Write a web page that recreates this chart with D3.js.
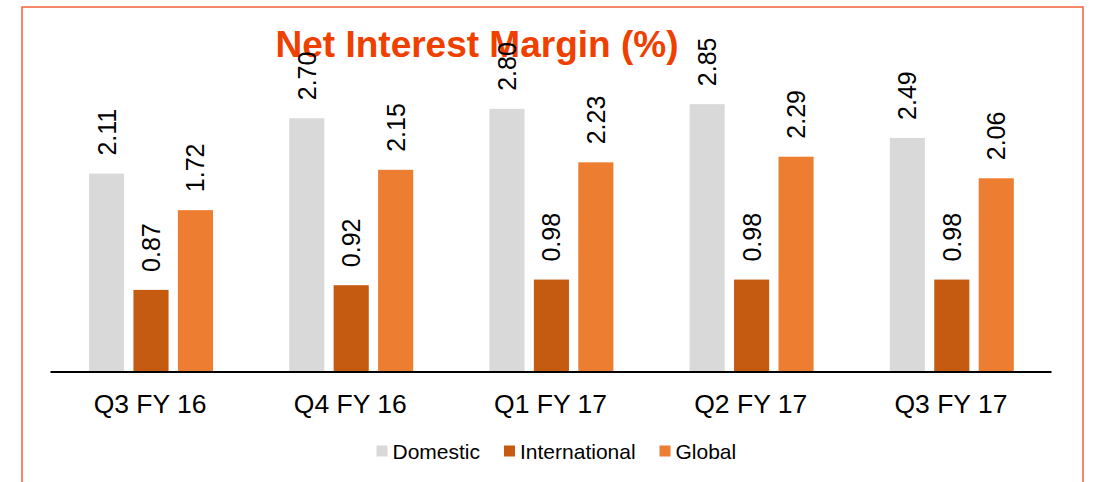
<!DOCTYPE html>
<html>
<head>
<meta charset="utf-8">
<script src="https://cdn.jsdelivr.net/npm/d3@7"></script>
<style>
  body { margin: 0; background: #fff; }
  svg { display: block; font-family: 'Liberation Sans', Arial, sans-serif; }
</style>
</head>
<body>
<svg id="chart"></svg>
<script>
// chart data
const quarters = ['Q3 FY 16', 'Q4 FY 16', 'Q1 FY 17', 'Q2 FY 17', 'Q3 FY 17'];
const seriesNames = ['Domestic', 'International', 'Global'];
const domestic = [2.11, 2.70, 2.80, 2.85, 2.49];
const international = [0.87, 0.92, 0.98, 0.98, 0.98];
const global = [1.72, 2.15, 2.23, 2.29, 2.06];
const colors = ['#d9d9d9', '#c55a11', '#ed7d31'];

const width = 1097;
const height = 482;
const baseY = 371.5;

const svg = d3.select('#chart')
              .attr('width', width)
              .attr('height', height);

// orange frame, open at bottom
svg.append('rect')
   .attr('x', 22)
   .attr('y', 7)
   .attr('width', 1061)
   .attr('height', 520)
   .attr('fill', 'none')
   .attr('stroke', '#f4623a')
   .attr('stroke-width', 1.5);

const x0 = d3.scaleBand()
             .domain(quarters)
             .range([50, 1051]);

const x1 = d3.scaleBand()
             .domain(seriesNames)
             .range([39, 163])
             .paddingInner(0.21);

const y = d3.scaleLinear()
            .domain([0, 3])
            .range([baseY, baseY - 3 * 93.8]);

const color = d3.scaleOrdinal()
                .domain(seriesNames)
                .range(colors);

// build rows from arrays
const rows = [];
quarters.forEach((q, i) => {
  rows.push({ q: q, s: 'Domestic', v: domestic[i] });
  rows.push({ q: q, s: 'International', v: international[i] });
  rows.push({ q: q, s: 'Global', v: global[i] });
});

// title
svg.append('text')
   .attr('x', 477)
   .attr('y', 56.5)
   .attr('text-anchor', 'middle')
   .attr('font-size', 37)
   .attr('font-weight', 'bold')
   .attr('fill', '#f04000')
   .text('Net Interest Margin (%)');

// bars
svg.append('g')
   .selectAll('rect')
   .data(rows)
   .join('rect')
   .attr('x', d => x0(d.q) + x1(d.s))
   .attr('y', d => y(d.v))
   .attr('width', x1.bandwidth())
   .attr('height', d => baseY - y(d.v))
   .attr('fill', d => color(d.s));

// x axis
const xAxis = d3.axisBottom(x0)
                .tickSize(0)
                .tickPadding(22.5);

const axisG = svg.append('g')
                 .attr('transform', 'translate(0,' + baseY + ')')
                 .call(xAxis);

axisG.select('.domain')
     .attr('stroke', '#000')
     .attr('stroke-width', 2);

axisG.selectAll('text')
     .attr('font-size', 26.5)
     .attr('font-family', "'Liberation Sans', Arial, sans-serif")
     .attr('fill', '#000');

// value labels, rotated
svg.append('g')
   .selectAll('text')
   .data(rows)
   .join('text')
   .attr('transform', d => {
     const cx = x0(d.q) + x1(d.s) + x1.bandwidth() / 2;
     const ty = y(d.v) - 18;
     return 'translate(' + cx + ',' + ty + ') rotate(-90)';
   })
   .attr('dy', '0.36em')
   .attr('font-size', 25)
   .attr('fill', '#000')
   .text(d => d.v.toFixed(2));

// legend
const legendX = [376.5, 504, 659.5];
const legend = svg.append('g');

seriesNames.forEach((s, i) => {
  legend.append('rect')
        .attr('x', legendX[i])
        .attr('y', 445.5)
        .attr('width', 11)
        .attr('height', 11)
        .attr('fill', color(s));

  legend.append('text')
        .attr('x', legendX[i] + 16)
        .attr('y', 458.5)
        .attr('font-size', 21)
        .attr('fill', '#000')
        .text(s);
});
</script>
</body>
</html>
